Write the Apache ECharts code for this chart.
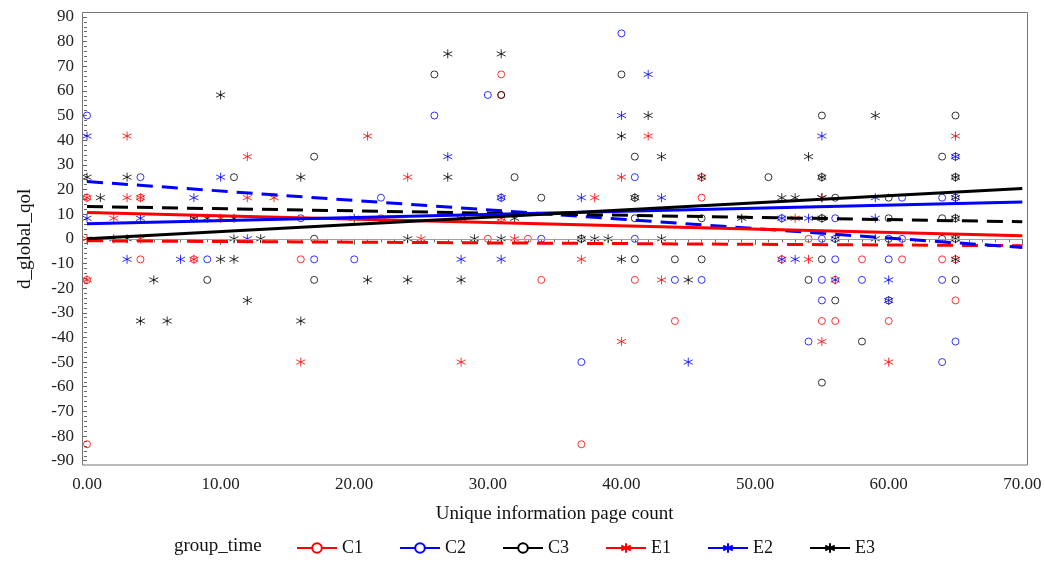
<!DOCTYPE html>
<html><head><meta charset="utf-8">
<script src="https://cdn.jsdelivr.net/npm/echarts@6/dist/echarts.min.js"></script>
<style>html,body{margin:0;padding:0;background:#fff}#c{width:1045px;height:562px}</style>
</head><body><div id="c"></div>
<script>
// ---- data ----
const groups = ['C1', 'C2', 'C3', 'E1', 'E2', 'E3'];
const groupColors = ['#ff0000', '#0000ff', '#000000', '#ff0000', '#0000ff', '#000000'];
const groupDashed = [true, true, true, false, false, false];

const C1 = [[0,16.67],[4,16.67],[0,-16.67],[0,-83.33],[4,-8.33],[8,-8.33],[16,-8.33],[31,66.67],[31,58.33],[31,8.33],[22,8.33],
  [30,0],[33,0],[34,-16.67],[41,-16.67],[44,-33.33],[37,-83.33],[46,25],[46,16.67],[54,0],[52,-8.33],[58,-8.33],[61,-8.33],
  [64,-8.33],[65,-8.33],[56,-16.67],[65,-25],[55,-33.33],[56,-33.33],[60,-33.33]];
const C2 = [[0,50],[4,25],[16,8.33],[9,-8.33],[17,-8.33],[40,83.33],[30,58.33],[26,50],[41,25],[22,16.67],[31,16.67],[34,0],
  [41,0],[20,-8.33],[44,-16.67],[37,-50],[65,33.33],[61,16.67],[64,16.67],[65,16.67],[52,8.33],[56,8.33],[55,0],[56,0],[61,0],
  [56,-8.33],[60,-8.33],[46,-16.67],[55,-16.67],[58,-16.67],[64,-16.67],[55,-25],[54,-41.67],[65,-41.67],[64,-50]];
const C3 = [[17,33.33],[11,25],[8,8.33],[17,0],[9,-16.67],[17,-16.67],[26,66.67],[31,58.33],[40,66.67],[41,33.33],[32,25],
  [34,16.67],[41,16.67],[41,8.33],[37,0],[41,-8.33],[44,-8.33],[55,50],[65,50],[64,33.33],[51,25],[55,25],[65,25],[56,16.67],
  [60,16.67],[46,8.33],[55,8.33],[60,8.33],[64,8.33],[65,8.33],[60,0],[64,0],[65,0],[46,-8.33],[55,-8.33],[54,-16.67],
  [65,-16.67],[56,-25],[60,-25],[58,-41.67],[55,-58.33]];
const E1 = [[0,16.67],[3,41.67],[12,33.33],[3,16.67],[4,16.67],[12,16.67],[14,16.67],[2,8.33],[10,8.33],[0,0],[4,0],[8,-8.33],
  [0,-16.67],[16,-50],[21,41.67],[42,41.67],[24,25],[40,25],[38,16.67],[25,0],[32,0],[37,-8.33],[43,-16.67],[40,-41.67],
  [28,-50],[65,41.67],[55,16.67],[53,8.33],[54,-8.33],[55,-41.67],[60,-50],[31,8.33]];
const E2 = [[0,41.67],[10,25],[8,16.67],[0,8.33],[4,8.33],[2,0],[12,0],[3,-8.33],[7,-8.33],[42,66.67],[40,50],[27,33.33],
  [31,16.67],[37,16.67],[43,16.67],[28,-8.33],[31,-8.33],[45,-50],[55,41.67],[65,33.33],[59,16.67],[52,8.33],[54,8.33],
  [59,8.33],[52,-8.33],[53,-8.33],[56,-16.67],[60,-16.67],[60,-25]];
const E3 = [[10,58.33],[0,25],[3,25],[16,25],[1,16.67],[8,8.33],[9,8.33],[11,8.33],[3,0],[11,0],[13,0],[10,-8.33],[11,-8.33],
  [5,-16.67],[12,-25],[4,-33.33],[6,-33.33],[16,-33.33],[27,75],[31,75],[42,50],[40,41.67],[43,33.33],[27,25],[28,8.33],
  [32,8.33],[20,8.33],[24,0],[29,0],[31,0],[37,0],[38,0],[39,0],[43,0],[40,-8.33],[21,-16.67],[24,-16.67],[28,-16.67],
  [45,-16.67],[59,50],[54,33.33],[55,25],[65,25],[52,16.67],[53,16.67],[55,16.67],[65,16.67],[49,8.33],[55,8.33],[65,8.33],
  [56,0],[59,0],[65,0],[65,-8.33],[41,16.67],[46,25]];
const groupPoints = [C1, C2, C3, E1, E2, E3];

// fitted regression lines: value at x = fitX[0] and x = fitX[1]
const fitX = [0, 70];
const fitStart = [-0.8, 23.2, 13.1, 10.7, 6.1, 0.0];
const fitEnd = [-2.8, -3.5, 6.9, 1.2, 14.9, 20.4];

const xTitle = 'Unique information page count';
const yTitle = 'd_global_qol';
const legendTitle = 'group_time';

// ---- chart ----
const FONT = '"Liberation Serif", "DejaVu Serif", serif';
const STAR = 'path://M5,0L5,10M0.67,2.5L9.33,7.5M0.67,7.5L9.33,2.5';
const series = [];
groups.forEach((g, i) => {
  const c = groupColors[i];
  series.push({
    type: 'line', name: g,
    data: [[fitX[0], fitStart[i]], [fitX[1], fitEnd[i]]],
    showSymbol: false,
    symbol: groupDashed[i] ? 'emptyCircle' : STAR,
    symbolSize: 8,
    itemStyle: { color: groupDashed[i] ? c : 'rgba(0,0,0,0)', borderColor: c, borderWidth: 1 },
    lineStyle: { color: c, width: 3, type: groupDashed[i] ? [16, 9] : 'solid' },
    z: 5, silent: true, animation: false
  });
});
groups.forEach((g, i) => {
  const c = groupColors[i];
  const s = {
    type: 'scatter', name: g, data: groupPoints[i],
    symbol: groupDashed[i] ? 'circle' : STAR,
    symbolSize: groupDashed[i] ? 7 : 9,
    itemStyle: { color: 'rgba(0,0,0,0)', borderColor: c, borderWidth: 1 },
    z: 3, silent: true, animation: false
  };
  if (i === 0) {
    s.markLine = { silent: true, symbol: 'none', label: { show: false }, animation: false,
      lineStyle: { color: '#a0a0a0', type: 'solid', width: 1 }, data: [{ yAxis: 0 }] };
  }
  series.push(s);
});

const chart = echarts.init(document.getElementById('c'));
chart.setOption({
  animation: false,
  backgroundColor: '#fff',
  title: { text: legendTitle, left: 174, top: 537, padding: 0,
    textStyle: { fontFamily: FONT, fontSize: 19, fontWeight: 'normal', color: '#111' } },
  legend: {
    data: groups, left: 296, top: 539, padding: 0,
    itemWidth: 40, itemHeight: 12, itemGap: 36,
    textStyle: { fontFamily: FONT, fontSize: 18, color: '#111' }
  },
  grid: { left: 87, top: 16.9, width: 935.3, height: 443.8 },
  graphic: [{ type: 'rect', silent: true, z: 10,
    shape: { x: 82.5, y: 12.5, width: 945, height: 452.5 },
    style: { fill: 'none', stroke: '#777', lineWidth: 1 } }],
  xAxis: {
    type: 'value', min: 0, max: 70, interval: 10, offset: 4,
    axisLine: { show: false },
    axisTick: { show: true, length: 6, lineStyle: { color: '#666' } },
    minorTick: { show: true, splitNumber: 10, length: 3.5, lineStyle: { color: '#666' } },
    splitLine: { show: false },
    axisLabel: { formatter: v => v.toFixed(2), margin: 11, fontFamily: FONT, fontSize: 17, color: '#222' },
    name: xTitle, nameLocation: 'middle', nameGap: 40,
    nameTextStyle: { fontFamily: FONT, fontSize: 19, color: '#111' }
  },
  yAxis: {
    type: 'value', min: -90, max: 90, interval: 10, offset: 5,
    axisLine: { show: false },
    axisTick: { show: true, length: 5, lineStyle: { color: '#666' } },
    minorTick: { show: true, splitNumber: 5, length: 3, lineStyle: { color: '#666' } },
    splitLine: { show: false },
    axisLabel: { margin: 8, fontFamily: FONT, fontSize: 17, color: '#222' },
    name: yTitle, nameLocation: 'middle', nameGap: 47, nameRotate: 90,
    nameTextStyle: { fontFamily: FONT, fontSize: 19, color: '#111' }
  },
  series: series
});
</script></body></html>
